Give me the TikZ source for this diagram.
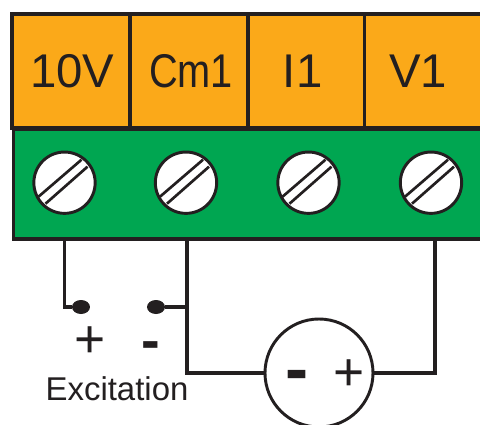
\documentclass[tikz,border=0pt]{standalone}
\usepackage{fontspec}
\setmainfont{Liberation Sans}
\usetikzlibrary{calc,shapes.geometric}
\definecolor{pinorange}{RGB}{251, 169, 25}
\definecolor{bargreen}{RGB}{0, 166, 81}
\definecolor{wireblack}{RGB}{35, 31, 32}

\begin{document}
\begin{tikzpicture}[
    x=0.75pt, y=-0.75pt,
    pincell/.style={rectangle, minimum height=85.5pt, inner sep=0pt, fill=pinorange, draw=wireblack, line width=2.4pt, text=wireblack, font=\fontsize{35.5}{35.5}\selectfont},
    greenbar/.style={rectangle, minimum width=400pt, minimum height=82pt, inner sep=0pt, fill=bargreen, draw=wireblack, line width=2.4pt},
    screw/.style={circle, minimum size=46pt, inner sep=0pt, fill=white, draw=wireblack, line width=2.2pt},
    slot/.style={draw=wireblack, line width=2pt},
    wire/.style={draw=wireblack, line width=2.3pt},
    contact/.style={ellipse, minimum width=13.5pt, minimum height=10.5pt, inner sep=0pt, fill=wireblack},
    sign/.style={inner sep=0pt, text=wireblack, font=\fontsize{40}{40}\selectfont},
    boldsign/.style={sign, font=\bfseries\fontsize{42}{42}\selectfont},
    source/.style={circle, minimum size=81pt, inner sep=0pt, fill=white, draw=wireblack, line width=2.2pt}
]
\useasboundingbox (0,0) rectangle (480,425);
\clip (0,0) rectangle (480,425);
\fill[white] (0,0) rectangle (480,425);

% Terminal block
\node[greenbar, anchor=north west] (bar) at (12,128) {};
\node[pincell, minimum width=88.5pt] (pinA) at (71,71) {\hspace{2pt}10V};
\node[pincell, minimum width=88.5pt] (pinB) at (189,71) {\hspace{3pt}\scalebox{0.84}[1]{Cm1}};
\node[pincell, minimum width=87.75pt] (pinC) at (306.5,71) {\hspace{-6pt}I\hspace{1pt}1};
\node[pincell, minimum width=100pt] (pinD) at (431.5,71) {};
\node[text=wireblack, font=\fontsize{35.5}{35.5}\selectfont] (pinDtext) at (418,71) {V1};

% Screws
\foreach \name/\xpos in {screwA/64.5, screwB/186, screwC/308.5, screwD/431} {
    \node[screw] (\name) at (\xpos,182.7) {};
    \draw[slot] ($(\xpos,182.7)+(-26,14)$) -- ($(\xpos,182.7)+(17,-23)$);
    \draw[slot] ($(\xpos,182.7)+(-19,21)$) -- ($(\xpos,182.7)+(23,-16)$);
}

% Excitation contacts
\node[contact] (plus) at (81,307) {};
\node[contact] (minus) at (156,307) {};
\node[sign] (plussign) at (90,342) {+};
\node[boldsign] (minussign) at (151,351) {-};
\node[text=wireblack, font=\fontsize{24.7}{24.7}\selectfont] (excitation) at (117,389) {Excitation};

% Sensor source
\node[source] (meter) at (319,373) {};
\node[boldsign, font=\bfseries\fontsize{52}{52}\selectfont] (meterminus) at (297,381) {-};
\node[sign] (meterplus) at (349,375) {+};

% Wires
\coordinate (tapA) at (64.5,238);
\coordinate (tapB) at (187,238);
\coordinate (tapD) at (435,238);
\draw[wire] (tapA) |- (plus);
\draw[wire] (tapB) |- (meter.west);
\draw[wire] (minus) -- (minus -| tapB);
\draw[wire] (meter.east) -| (tapD);

\end{tikzpicture}
\end{document}
